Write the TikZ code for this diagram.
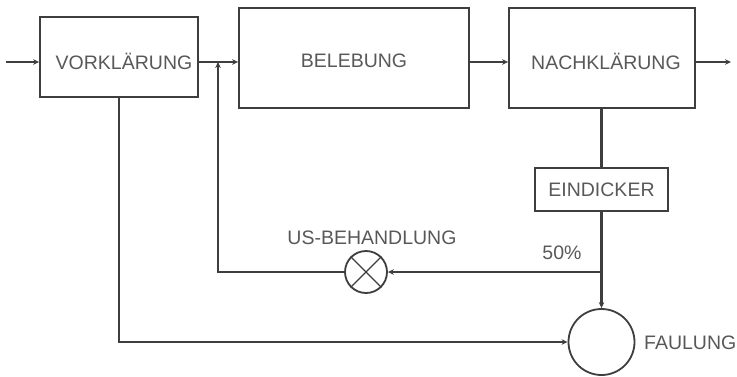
\documentclass[tikz,border=0pt]{standalone}
\usepackage{fontspec}
\setmainfont{Liberation Sans}
\usetikzlibrary{arrows.meta}
\definecolor{lc}{HTML}{3E3E3E}
\definecolor{tc}{HTML}{585858}
\begin{document}
\begin{tikzpicture}[x=1pt,y=-1pt,
  txt/.style={text=tc, font=\fontsize{19.5}{19.5}\selectfont, inner sep=0pt},
  box/.style={draw=lc, line width=1.8pt, inner sep=0pt},
  ln/.style={draw=lc, line width=2.1pt},
  arr/.style={-{Stealth[length=6pt,width=5.5pt]}}]
\useasboundingbox (0,0) rectangle (737,376);
\node[box, minimum width=158pt, minimum height=80pt,
      label={[txt,yshift=-4pt,xshift=5pt]center:VORKLÄRUNG}] (vor) at (119,57) {};
\node[box, minimum width=230pt, minimum height=100pt,
      label={[txt,yshift=-3pt]center:BELEBUNG}] (bel) at (354,58) {};
\node[box, minimum width=186pt, minimum height=100pt,
      label={[txt,yshift=-3pt,xshift=4pt]center:NACHKLÄRUNG}] (nach) at (602,58) {};
\node[box, txt, minimum width=133pt, minimum height=43pt] (eind) at (601.5,189.5) {EINDICKER};
\node[box, circle, minimum size=42pt] (cr) at (366,272) {};
\draw[lc, line width=1.3pt] (cr.45) -- (cr.225) (cr.135) -- (cr.315);
\node[box, circle, minimum size=66pt] (fau) at (601.5,342) {};
\node[txt] (usb) at (372,238) {US-BEHANDLUNG};
\node[txt] (pct) at (562,253) {50\%};
\node[txt, anchor=west] (faul) at (644,343) {FAULUNG};
\coordinate (in) at (6,62);
\coordinate (out) at (731,62);
\coordinate (j) at (601.5,272);
\coordinate (r1) at (218,272);
\coordinate (r2) at (218,62);
\draw[ln,arr] (in) -- (vor.west |- in);
\draw[ln,arr] (vor.east |- in) -- (bel.west |- in);
\draw[ln,arr] (bel.east |- in) -- (nach.west |- in);
\draw[ln,arr] (nach.east |- in) -- (out);
\draw[ln] (eind.north |- nach.south) -- (eind.north);
\draw[ln,arr] (eind.south) -- (fau.north);
\draw[ln,arr] (j) -- (cr.east);
\draw[ln,arr] (cr.west) -- (r1) -- (r2);
\draw[ln,arr] (vor.south) -- (vor.south |- fau) -- (fau.west);
\end{tikzpicture}
\end{document}
